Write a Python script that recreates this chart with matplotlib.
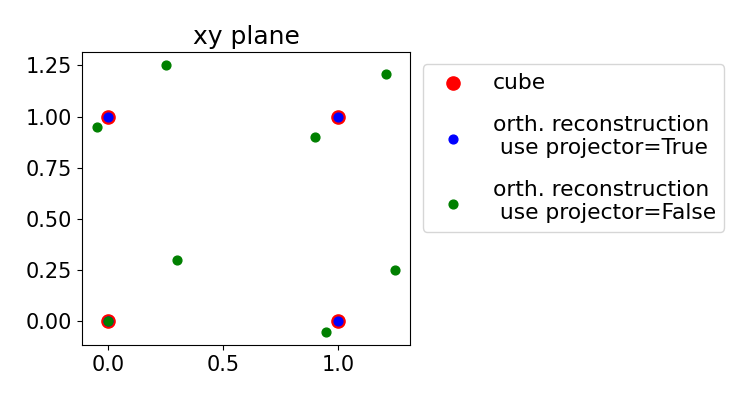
import matplotlib
matplotlib.use("Agg")
import matplotlib.pyplot as plt

cube_x = [0, 0, 1, 1]
cube_y = [0, 1, 0, 1]
proj_x = [0, 0, 1, 1]
proj_y = [0, 1, 0, 1]
noproj_x = [0.0, 0.25, -0.05, 1.21, 0.9, 0.3, 1.25, 0.95]
noproj_y = [0.0, 1.25, 0.95, 1.21, 0.9, 0.3, 0.25, -0.05]

plt.rcParams['font.size'] = 15
fig = plt.figure(figsize=(7.5, 4), dpi=100)
ax = fig.add_axes([0.109, 0.1375, 0.438, 0.7325])
ax.scatter(cube_x, cube_y, s=90, c='red', label='cube')
ax.scatter(proj_x, proj_y, s=40, c='blue', label='orth. reconstruction\n use projector=True')
ax.scatter(noproj_x, noproj_y, s=40, c='green', label='orth. reconstruction\n use projector=False')
ax.set_title('xy plane', fontsize=18)
ax.set_xticks([0.0, 0.5, 1.0])
ax.set_yticks([0.0, 0.25, 0.5, 0.75, 1.0, 1.25])
ax.legend(loc='upper left', bbox_to_anchor=(1.005, 0.995), fontsize=15.7, labelspacing=1.0)
fig.savefig('out.png', dpi=100)
